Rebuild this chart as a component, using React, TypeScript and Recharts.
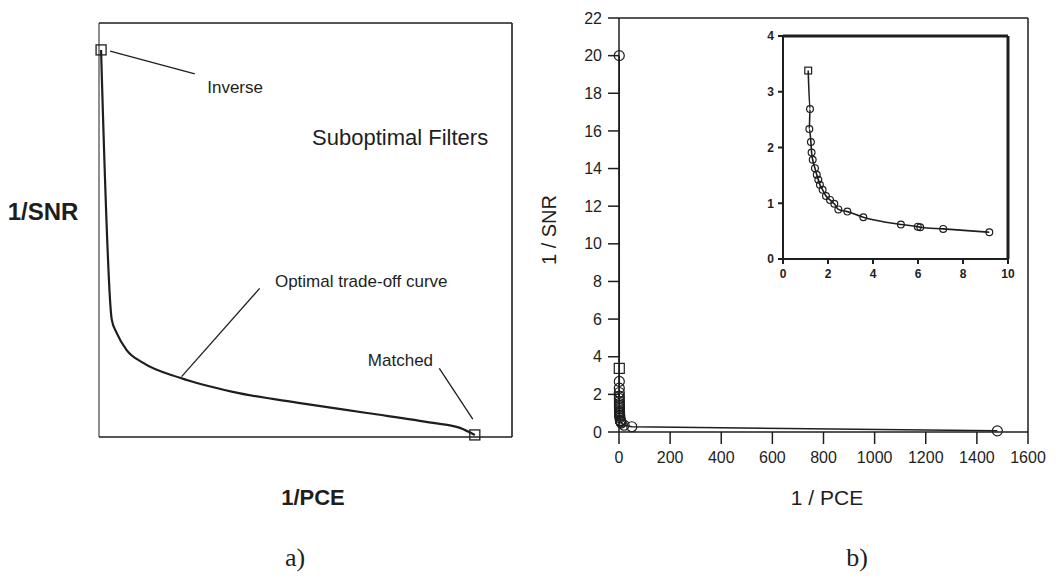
import React from "react";
import {
  LineChart,
  Line,
  XAxis,
  YAxis,
  ReferenceLine,
  ReferenceDot,
} from "recharts";

// panel a: schematic trade-off curve (arbitrary units 0-100)
const tradeoffX = [0.5, 3.1, 4.3, 6.7, 10.7, 19.6, 32.4, 48.7, 64.9, 80.9, 87.4, 91.0];
const tradeoffY = [93.5, 28.3, 25.1, 21.0, 17.9, 14.3, 10.9, 8.2, 5.8, 3.4, 2.2, 0.5];

// panel b: measured 1/PCE vs 1/SNR (inset shows the 0-10 range)
const insetPce = [1.12, 1.2, 1.17, 1.24, 1.27, 1.32, 1.42, 1.5, 1.57, 1.64, 1.76, 1.91, 2.09, 2.28, 2.46, 2.86, 3.57, 5.24, 5.99, 6.1, 7.12, 9.17];
const insetSnr = [3.38, 2.69, 2.33, 2.1, 1.91, 1.78, 1.63, 1.51, 1.42, 1.33, 1.24, 1.13, 1.06, 0.99, 0.89, 0.85, 0.75, 0.62, 0.58, 0.57, 0.54, 0.48];
const farPce = [20, 50, 1480];
const farSnr = [0.36, 0.28, 0.06];
const inversePce = 1;
const inverseSnr = 20;

const mainTicksX = [0, 200, 400, 600, 800, 1000, 1200, 1400, 1600];
const mainTicksY = [0, 2, 4, 6, 8, 10, 12, 14, 16, 18, 20, 22];
const insetTicksX = [0, 2, 4, 6, 8, 10];
const insetTicksY = [0, 1, 2, 3, 4];

const tradeoffData = tradeoffX.map((x, i) => ({ x, y: tradeoffY[i] }));
const insetData = insetPce.map((x, i) => ({ x, y: insetSnr[i] }));
const mainData = [
  { x: inversePce, y: inverseSnr },
  ...insetData,
  ...farPce.map((x, i) => ({ x, y: farSnr[i] })),
];

const INK = "#1e1e1e";
const SANS = "'Liberation Sans', Arial, Helvetica, sans-serif";
const SERIF = "'Liberation Serif', 'Times New Roman', serif";

function Txt({ x, y, children, size, bold, serif, rotate }: any) {
  return (
    <div
      style={{
        position: "absolute",
        left: x,
        top: y,
        transform: `translate(-50%, -50%)${rotate ? ` rotate(${rotate}deg)` : ""}`,
        fontFamily: serif ? SERIF : SANS,
        fontSize: size,
        fontWeight: bold ? 700 : 400,
        color: INK,
        whiteSpace: "nowrap",
        lineHeight: 1,
      }}
    >
      {children}
    </div>
  );
}

// square at the ends of panel a
const endDot = (last: number) => (props: any) => {
  const { cx, cy, index } = props;
  if (index !== 0 && index !== last) return <g key={`d-${index}`} />;
  return (
    <rect key={`d-${index}`} x={cx - 5} y={cy - 5} width={10} height={10} fill="none" stroke={INK} strokeWidth={1.3} />
  );
};

// first point a square, the rest circles
const markerDot = (r: number, firstIndex: number) => (props: any) => {
  const { cx, cy, index } = props;
  if (cx == null || cy == null) return <g key={`m-${index}`} />;
  if (index === firstIndex) {
    return (
      <rect key={`m-${index}`} x={cx - r} y={cy - r} width={2 * r} height={2 * r} fill="none" stroke={INK} strokeWidth={1.2} />
    );
  }
  return <circle key={`m-${index}`} cx={cx} cy={cy} r={r} fill="none" stroke={INK} strokeWidth={1.2} />;
};

function note(x: number, y: number, text: string, size: number) {
  return (
    <ReferenceDot
      key={text}
      x={x}
      y={y}
      r={0}
      stroke="none"
      fill="none"
      label={{ value: text, position: "right", offset: 0, fill: INK, fontSize: size, fontFamily: SANS }}
    />
  );
}

function PanelA() {
  return (
    <LineChart
      width={530}
      height={470}
      data={tradeoffData}
      margin={{ top: 23, right: 18, bottom: 33, left: 99 }}
    >
      <XAxis type="number" dataKey="x" domain={[0, 100]} hide />
      <YAxis type="number" domain={[0, 100]} hide />
      <ReferenceLine y={100} stroke={INK} strokeWidth={1.6} />
      <ReferenceLine y={0} stroke={INK} strokeWidth={1.6} />
      <ReferenceLine x={0} stroke={INK} strokeWidth={1} />
      <ReferenceLine x={100} stroke={INK} strokeWidth={1.6} />
      <ReferenceLine segment={[{ x: 2.7, y: 93.2 }, { x: 23.2, y: 87.7 }]} stroke={INK} strokeWidth={1.3} />
      <ReferenceLine segment={[{ x: 20.0, y: 14.6 }, { x: 38.9, y: 35.9 }]} stroke={INK} strokeWidth={1.3} />
      <ReferenceLine segment={[{ x: 82.4, y: 16.6 }, { x: 90.5, y: 4.3 }]} stroke={INK} strokeWidth={1.3} />
      {note(26.2, 84.5, "Inverse", 17)}
      {note(51.6, 72.5, "Suboptimal Filters", 22)}
      {note(42.6, 37.7, "Optimal trade-off curve", 17)}
      {note(65.1, 18.6, "Matched", 17)}
      <Line
        type="monotone"
        dataKey="y"
        stroke={INK}
        strokeWidth={2.2}
        dot={endDot(tradeoffData.length - 1)}
        activeDot={false}
        isAnimationActive={false}
      />
    </LineChart>
  );
}

function PanelB() {
  const tick = { fill: INK, fontSize: 16, fontFamily: SANS };
  return (
    <LineChart
      width={530}
      height={480}
      data={mainData}
      margin={{ top: 18, right: 32, bottom: 8, left: 39 }}
    >
      <XAxis
        type="number"
        dataKey="x"
        domain={[0, 1600]}
        ticks={mainTicksX}
        interval={0}
        tick={tick}
        tickSize={12}
        tickMargin={8}
        height={40}
        stroke={INK}
        strokeWidth={1.5}
      />
      <YAxis
        type="number"
        domain={[0, 22]}
        ticks={mainTicksY}
        interval={0}
        tick={tick}
        tickSize={11}
        tickMargin={6}
        width={50}
        stroke={INK}
        strokeWidth={1.5}
      />
      <ReferenceLine y={22} stroke={INK} strokeWidth={1.5} />
      <ReferenceLine x={1600} stroke={INK} strokeWidth={1.5} />
      <Line
        type="linear"
        dataKey="y"
        stroke={INK}
        strokeWidth={1.5}
        dot={markerDot(5, 1)}
        activeDot={false}
        isAnimationActive={false}
      />
    </LineChart>
  );
}

function Inset() {
  const tick = { fill: INK, fontSize: 12, fontWeight: 700, fontFamily: SANS };
  return (
    <LineChart
      width={285}
      height={268}
      data={insetData}
      margin={{ top: 10, right: 10, bottom: 5, left: 10 }}
    >
      <XAxis
        type="number"
        dataKey="x"
        domain={[0, 10]}
        ticks={insetTicksX}
        interval={0}
        tick={tick}
        tickSize={5}
        tickMargin={5}
        height={30}
        stroke={INK}
        strokeWidth={2}
      />
      <YAxis
        type="number"
        domain={[0, 4]}
        ticks={insetTicksY}
        interval={0}
        tick={tick}
        tickSize={5}
        tickMargin={4}
        width={40}
        stroke={INK}
        strokeWidth={2}
      />
      <ReferenceLine y={4} stroke={INK} strokeWidth={3} />
      <ReferenceLine x={10} stroke={INK} strokeWidth={3} />
      <Line
        type="monotone"
        dataKey="y"
        stroke={INK}
        strokeWidth={1.6}
        dot={markerDot(3.4, 0)}
        activeDot={false}
        isAnimationActive={false}
      />
    </LineChart>
  );
}

export default function App() {
  return (
    <div
      style={{
        position: "absolute",
        left: 0,
        top: 0,
        width: 1060,
        height: 579,
        background: "#fff",
        overflow: "hidden",
      }}
    >
      <div style={{ position: "absolute", left: 0, top: 0 }}>
        <PanelA />
      </div>
      <div style={{ position: "absolute", left: 530, top: 0 }}>
        <PanelB />
      </div>
      <div style={{ position: "absolute", left: 733, top: 26 }}>
        <Inset />
      </div>
      <Txt x={43} y={212} size={24} bold>1/SNR</Txt>
      <Txt x={313} y={498} size={22} bold>1/PCE</Txt>
      <Txt x={295} y={558} size={26} serif>a)</Txt>
      <Txt x={549} y={230} size={20} rotate={-90}>1 / SNR</Txt>
      <Txt x={827} y={497} size={21}>1 / PCE</Txt>
      <Txt x={857} y={558} size={26} serif>b)</Txt>
    </div>
  );
}
